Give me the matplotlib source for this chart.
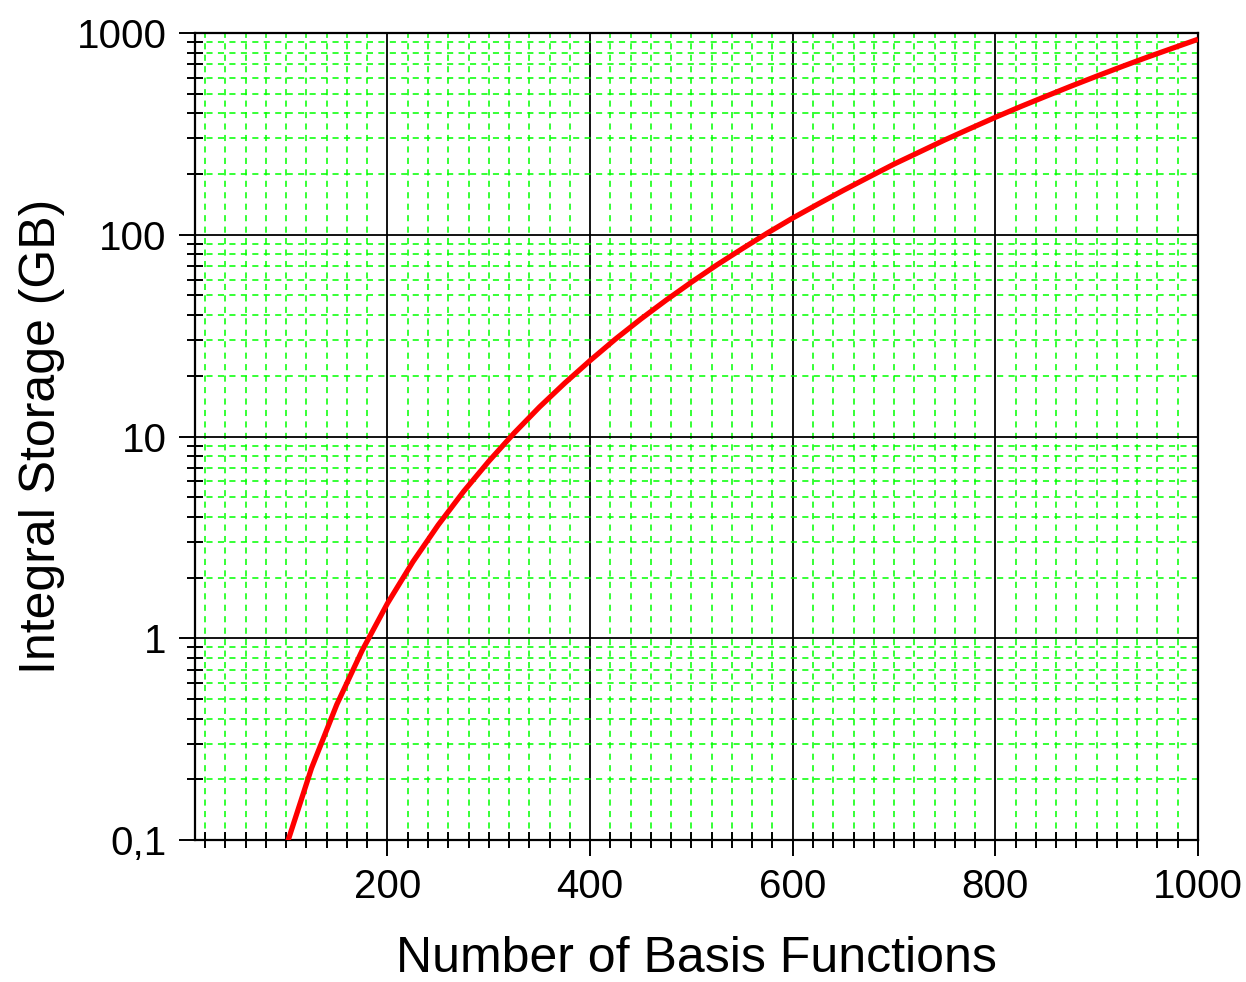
import numpy as np
import matplotlib
matplotlib.use('Agg')
import matplotlib.pyplot as plt
from matplotlib.ticker import MultipleLocator, FixedLocator, FixedFormatter, LogLocator, NullFormatter

# ------------------------
# data
# ------------------------

n_basis = [100, 125, 150, 175, 200, 225, 250, 275, 300, 325, 350, 375, 400,
           425, 450, 475, 500, 525, 550, 575, 600, 625, 650, 675, 700, 725,
           750, 775, 800, 825, 850, 875, 900, 925, 950, 975, 1000]
storage_gb = [0.093, 0.227, 0.47, 0.87, 1.49, 2.39, 3.64, 5.33, 7.54, 10.4,
              14.0, 18.4, 23.8, 30.4, 38.2, 47.4, 58.2, 70.8, 85.2, 102,
              121, 142, 166, 193, 224, 257, 295, 336, 382, 432, 486, 546,
              611, 682, 759, 841, 931]

y_ticks = [0.1, 1, 10, 100, 1000]
y_tick_labels = ['0,1', '1', '10', '100', '1000']

x_label = 'Number of Basis Functions'
y_label = 'Integral Storage (GB)'

# ------------------------

plt.rcParams['font.family'] = ['Liberation Sans', 'DejaVu Sans']

fig = plt.figure(figsize=(12.46, 9.82), dpi=100)
ax = fig.add_axes([195/1246, 1 - 840/982, (1198 - 195)/1246, (840 - 33)/982])

ax.set_yscale('log')
ax.set_xlim(10, 1000)
ax.set_ylim(0.1, 1000)

# tick positions
ax.xaxis.set_major_locator(MultipleLocator(200))
ax.xaxis.set_minor_locator(MultipleLocator(20))
ax.yaxis.set_major_locator(FixedLocator(y_ticks))
ax.yaxis.set_major_formatter(FixedFormatter(y_tick_labels))
ax.yaxis.set_minor_locator(LogLocator(base=10, subs=np.arange(2, 10)))
ax.yaxis.set_minor_formatter(NullFormatter())

# grids: green dashed minor, black solid major
ax.grid(which='minor', color='#00ff00', linestyle=(0, (4, 3.5)), linewidth=1.1)
ax.grid(which='major', color='black', linestyle='-', linewidth=1.3)
ax.set_axisbelow(True)

ax.plot(n_basis, storage_gb, color='#ff0000', linewidth=3.8, zorder=5,
        solid_capstyle='butt', solid_joinstyle='round')

for s in ax.spines.values():
    s.set_linewidth(1.6)
    s.set_color('black')

ax.tick_params(axis='both', which='major', direction='out', length=11.5,
               width=1.4, labelsize=29, pad=9, colors='black')
ax.tick_params(axis='both', which='minor', direction='inout', length=11,
               width=1.4)

ax.set_xlabel(x_label, fontsize=36, labelpad=21)
ax.set_ylabel(y_label, fontsize=36, labelpad=8)

fig.savefig('out.png', dpi=100)
